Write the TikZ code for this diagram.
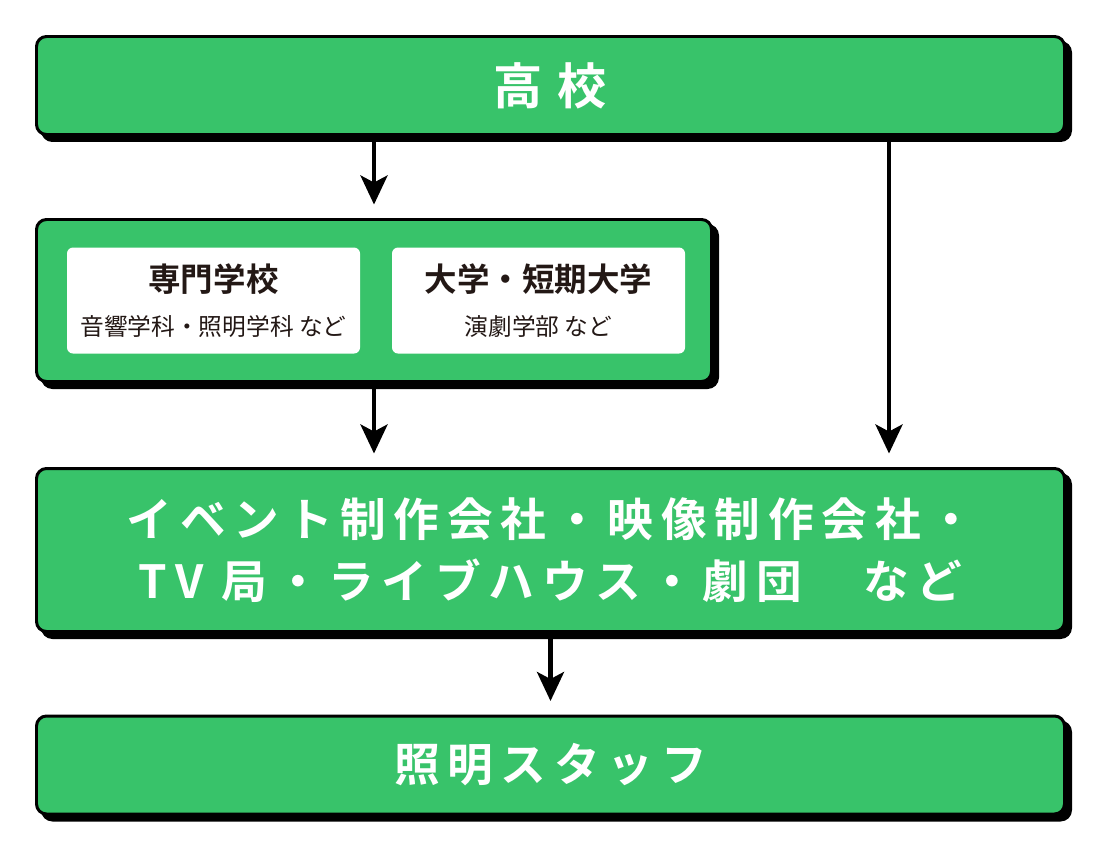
\documentclass[tikz,border=0pt]{standalone}
\usepackage{fontspec}
\usetikzlibrary{positioning,shadows,arrows.meta}
\newfontfamily\jpfont{Noto Sans CJK JP}[BoldFont=* Bold]
\definecolor{boxgreen}{HTML}{38C36A}
\definecolor{ink}{HTML}{231815}

\begin{document}
\begin{tikzpicture}[on grid,
  block/.style={draw=black,line width=1.7pt,fill=boxgreen,rounded corners=0.2cm,
    minimum width=20.56cm,text=white,font=\jpfont\bfseries,
    copy shadow={shadow xshift=0.12cm,shadow yshift=-0.12cm,fill=black,draw=black}},
  card/.style={fill=white,rounded corners=0.12cm,minimum width=5.86cm,
    minimum height=2.12cm,text=ink,align=center,font=\jpfont},
  bigtext/.style={font=\jpfont\bfseries\fontsize{26}{35}\selectfont\addfontfeature{LetterSpace=17}},
  flow/.style={-{Stealth[length=0.58cm,width=0.54cm,inset=0.14cm]},
    line width=2.5pt,shorten >=0.27cm}]
  \useasboundingbox (0,0) rectangle (22.06,-17.06);
  \node[block,minimum height=1.96cm] (top) at (11.01,-1.71)
    {\fontsize{28}{34}\selectfont\addfontfeature{LetterSpace=30}高校};
  \node[block,minimum width=13.5cm,minimum height=3.24cm] (schools)
    [below left=4.3cm and 3.53cm of top] {};
  \node[card] (senmon) [left=3.21cm of schools]
    {{\fontsize{18.5}{22}\selectfont\bfseries 専門学校}\\[11pt]
     {\fontsize{13.5}{15}\selectfont 音響学科・照明学科 など}};
  \node[card] (daigaku) [right=3.29cm of schools]
    {{\fontsize{18.5}{22}\selectfont\bfseries 大学・短期大学}\\[11pt]
     {\fontsize{13.5}{15}\selectfont 演劇学部 など}};
  \node[block,bigtext,minimum height=3.26cm,align=center] (work) [below=9.29cm of top]
    {イベント制作会社・映像制作会社・\\TV 局・ライブハウス・劇団　など};
  \node[block,bigtext,minimum height=1.96cm] (staff) [below=4.3cm of work] {照明スタッフ};
  \coordinate (side) at (17.78,0);
  \path[flow]
  (top.south -| schools) edge (schools.north)
  (top.south -| side) edge (work.north -| side)
  (schools.south) edge (work.north -| schools)
  (work.south) edge (staff.north)
  ;
\end{tikzpicture}
\end{document}
